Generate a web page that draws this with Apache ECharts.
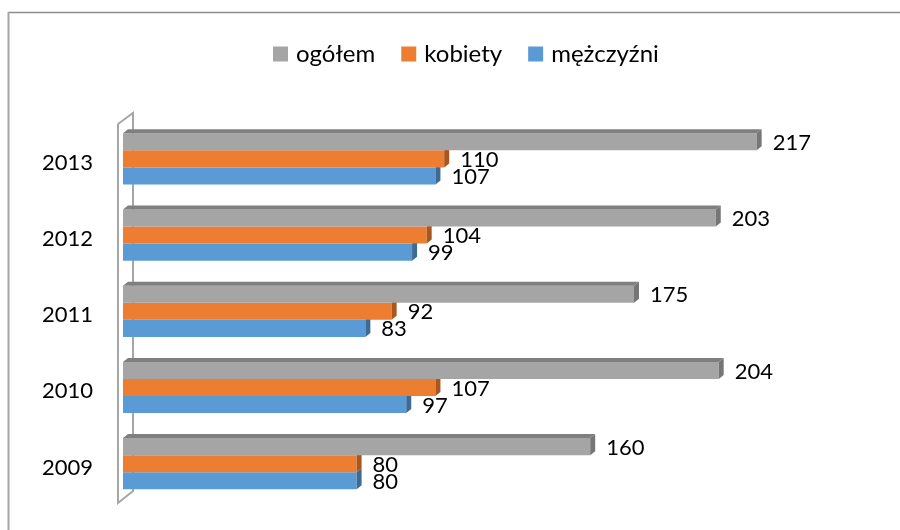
<!DOCTYPE html>
<html>
<head>
<meta charset="utf-8">
<script src="https://cdn.jsdelivr.net/npm/echarts@6/dist/echarts.min.js"></script>
<style>
  html, body { margin: 0; padding: 0; background: #fff; }
  #chart { width: 900px; height: 530px; }
</style>
</head>
<body>
<div id="chart"></div>
<script>
const years = ['2009', '2010', '2011', '2012', '2013']
const ogolem = [160, 204, 175, 203, 217]
const kobiety = [80, 107, 92, 104, 110]
const mezczyzni = [80, 97, 83, 99, 107]
const seriesNames = ['ogółem', 'kobiety', 'mężczyźni']

const FONT = 'Lato, "Liberation Sans", sans-serif'
const DX = 5, DY = -4

// front face, top face, side face
const palette = [
  ['#a5a5a5', '#7f7f7f', '#767676'],
  ['#ed7d31', '#b85f22', '#a9571f'],
  ['#5b9bd5', '#41719c', '#3d6b96'],
]

function render(slot) {
  return function (params, api) {
    const idx = api.value(0)
    const v = api.value(1)
    const start = api.coord([0, idx])
    const end = api.coord([v, idx])
    const band = api.size([0, 1])[1]
    const h = band * 0.224
    const y = start[1] - band * 0.386 + slot * h
    const x0 = start[0], x1 = end[0]
    const c = palette[slot]
    const children = [
      { type: 'rect', shape: { x: x0, y: y, width: x1 - x0, height: h }, style: { fill: c[0] } },
      { type: 'polygon', shape: { points: [[x1, y], [x1 + DX, y + DY], [x1 + DX, y + h + DY], [x1, y + h]] }, style: { fill: c[2] } },
    ]
    if (slot === 0) {
      children.push({ type: 'polygon', shape: { points: [[x0, y], [x0 + DX, y + DY], [x1 + DX, y + DY], [x1, y]] }, style: { fill: c[1] } })
    }
    children.push({
      type: 'text',
      style: { text: String(v), x: x1 + 16, y: y + h / 2 + 1, verticalAlign: 'middle', fill: '#000', font: '22px ' + FONT },
    })
    return { type: 'group', children }
  }
}

const values = [ogolem, kobiety, mezczyzni]

const chart = echarts.init(document.getElementById('chart'))
chart.setOption({
  animation: false,
  textStyle: { fontFamily: FONT },
  legend: {
    data: seriesNames,
    left: 268,
    top: 37,
    icon: 'rect',
    itemWidth: 15,
    itemHeight: 15,
    itemGap: 26,
    textStyle: { fontSize: 24, color: '#000', fontFamily: FONT, padding: [0, 0, 0, 3] },
  },
  grid: { left: 123, right: 47, top: 124.6, bottom: 24.4 },
  xAxis: { type: 'value', min: 0, max: 250, show: false },
  yAxis: {
    type: 'category',
    data: years,
    axisLine: { show: false },
    axisTick: { show: false },
    splitLine: { show: false },
    axisLabel: { fontSize: 22, color: '#000', margin: 30, fontFamily: FONT },
  },
  graphic: [
    { type: 'polyline', z: 0, shape: { points: [[118, 124], [133, 113], [133, 491], [118, 503], [118, 124]] }, style: { stroke: '#a6a6a6', lineWidth: 2, fill: null } },
    { type: 'line', shape: { x1: 8, y1: 12.5, x2: 900, y2: 12.5 }, style: { stroke: '#8c8c8c', lineWidth: 1.5 } },
    { type: 'line', shape: { x1: 8.5, y1: 12, x2: 8.5, y2: 530 }, style: { stroke: '#a6a6a6', lineWidth: 2 } },
  ],
  series: seriesNames.map((name, s) => ({
    name: name,
    type: 'custom',
    z: 10 - s,
    itemStyle: { color: palette[s][0] },
    encode: { x: 1, y: 0 },
    renderItem: render(s),
    data: values[s].map((v, i) => [i, v]),
  })),
})
</script>
</body>
</html>
